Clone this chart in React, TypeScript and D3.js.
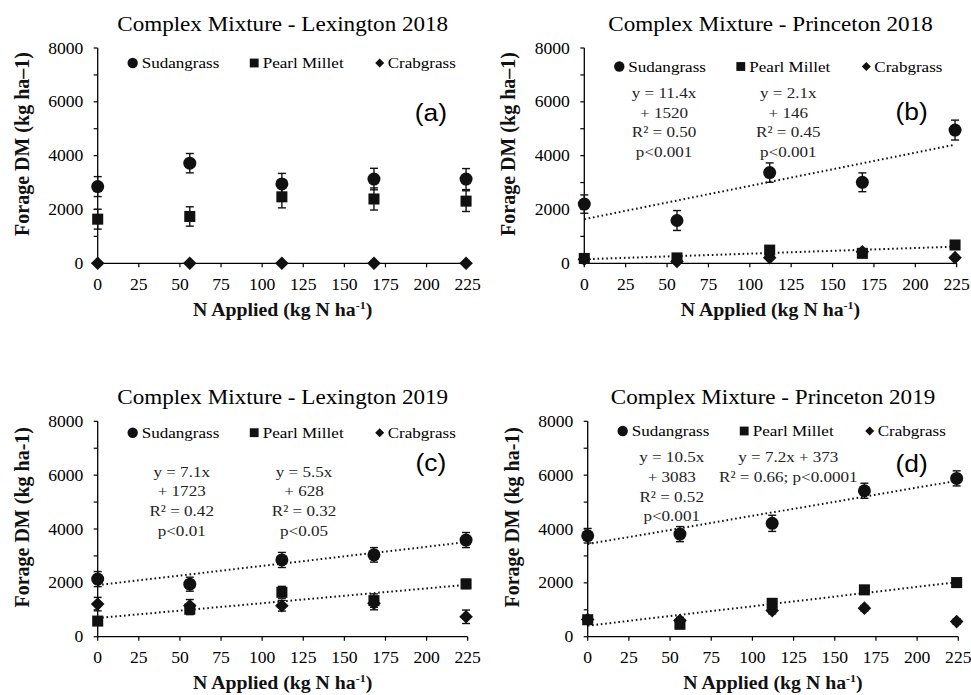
import React from "react";
import * as d3 from "d3";

// ---------- data ----------
const nRates = [0, 56, 112, 168, 224];
const xTicks = [0, 25, 50, 75, 100, 125, 150, 175, 200, 225];
const yTicksMajor = [0, 2000, 4000, 6000, 8000];
const yTicksMinor = [1000, 3000, 5000, 7000];
const seriesNames = ["Sudangrass", "Pearl Millet", "Crabgrass"];

const lex18Sudan = [2850, 3720, 2950, 3130, 3130];
const lex18SudanErr = [370, 360, 390, 400, 390];
const lex18Millet = [1640, 1740, 2470, 2390, 2310];
const lex18MilletErr = [370, 360, 410, 410, 385];
const lex18Crab = [0, 0, 0, 0, 0];
const lex18CrabErr = [0, 0, 0, 0, 0];

const pri18Sudan = [2200, 1590, 3370, 3010, 4950];
const pri18SudanErr = [340, 370, 360, 350, 370];
const pri18Millet = [180, 200, 490, 370, 680];
const pri18MilletErr = [80, 80, 100, 90, 60];
const pri18Crab = [150, 70, 210, 430, 210];
const pri18CrabErr = [60, 50, 60, 60, 60];

const lex19Sudan = [2140, 1950, 2850, 3040, 3590];
const lex19SudanErr = [280, 260, 280, 270, 280];
const lex19Millet = [580, 1020, 1650, 1340, 1960];
const lex19MilletErr = [150, 200, 220, 250, 170];
const lex19Crab = [1210, 1150, 1150, 1240, 740];
const lex19CrabErr = [250, 230, 200, 240, 250];

const pri19Sudan = [3750, 3810, 4210, 5420, 5880];
const pri19SudanErr = [270, 280, 300, 280, 280];
const pri19Millet = [630, 460, 1240, 1740, 2010];
const pri19MilletErr = [120, 120, 150, 100, 100];
const pri19Crab = [640, 600, 970, 1060, 560];
const pri19CrabErr = [120, 120, 120, 100, 100];

const titles = [
  "Complex Mixture - Lexington 2018",
  "Complex Mixture - Princeton 2018",
  "Complex Mixture - Lexington 2019",
  "Complex Mixture - Princeton 2019",
];
const tags = ["(a)", "(b)", "(c)", "(d)"];
const yLabels = [
  "Forage DM (kg ha\u20131)",
  "Forage DM (kg ha\u20131)",
  "Forage DM (kg ha-1)",
  "Forage DM (kg ha-1)",
];
const eqA1: string[] = [];
const eqA2: string[] = [];
const eqB1 = ["y = 11.4x", "+ 1520", "R\u00B2 = 0.50", "p<0.001"];
const eqB2 = ["y = 2.1x", "+ 146", "R\u00B2 = 0.45", "p<0.001"];
const eqC1 = ["y = 7.1x", "+ 1723", "R\u00B2 = 0.42", "p<0.01"];
const eqC2 = ["y = 5.5x", "+ 628", "R\u00B2 = 0.32", "p<0.05"];
const eqD1 = ["y = 10.5x", "+ 3083", "R\u00B2 = 0.52", "p<0.001"];
const eqD2 = ["y = 7.2x + 373", "R\u00B2 = 0.66; p<0.0001"];

// ---------- layout ----------
const SERIF = "'Liberation Serif', 'Times New Roman', serif";
const SANS = "'Liberation Sans', Arial, sans-serif";
const SX = 1.1;

const layouts = [
  { left: 97.7, right: 467.7, top: 48, bottom: 263.3, legendDy: 15, tagX: 430.8, tagY: 121, eqX1: 0, eqX2: 0, eqY: 0, trends: false },
  { left: 584.3, right: 956.7, top: 48, bottom: 263.3, legendDy: 18.5, tagX: 911.7, tagY: 120, eqX1: 664, eqX2: 788.3, eqY: 98, trends: true },
  { left: 97.7, right: 467.7, top: 421.3, bottom: 636.7, legendDy: 11.4, tagX: 430.8, tagY: 471, eqX1: 181.7, eqX2: 304, eqY: 476.7, trends: true },
  { left: 587.7, right: 958.3, top: 421.3, bottom: 636.7, legendDy: 9.7, tagX: 911.7, tagY: 472, eqX1: 671.7, eqX2: 788.3, eqY: 462.3, trends: true },
];

const panelData = [
  { s: [lex18Sudan, lex18Millet, lex18Crab], e: [lex18SudanErr, lex18MilletErr, lex18CrabErr], eq1: eqA1, eq2: eqA2 },
  { s: [pri18Sudan, pri18Millet, pri18Crab], e: [pri18SudanErr, pri18MilletErr, pri18CrabErr], eq1: eqB1, eq2: eqB2 },
  { s: [lex19Sudan, lex19Millet, lex19Crab], e: [lex19SudanErr, lex19MilletErr, lex19CrabErr], eq1: eqC1, eq2: eqC2 },
  { s: [pri19Sudan, pri19Millet, pri19Crab], e: [pri19SudanErr, pri19MilletErr, pri19CrabErr], eq1: eqD1, eq2: eqD2 },
];

function T(props: any) {
  const { x, y, size, anchor = "middle", weight = "normal", family = SERIF, fill = "#000", sx = SX, children } = props;
  return (
    <text
      transform={`translate(${x},${y}) scale(${sx},1)`}
      fontSize={size}
      textAnchor={anchor}
      fontFamily={family}
      fontWeight={weight}
      fill={fill}
    >
      {children}
    </text>
  );
}

function Marker({ kind, cx, cy, size }: { kind: number; cx: number; cy: number; size: number }) {
  if (kind === 0) return <circle cx={cx} cy={cy} r={size} fill="#111" />;
  if (kind === 1) {
    const h = size * 0.85;
    return <rect x={cx - h} y={cy - h} width={2 * h} height={2 * h} fill="#111" />;
  }
  const d = size;
  return <path d={`M${cx},${cy - d}L${cx + d},${cy}L${cx},${cy + d}L${cx - d},${cy}Z`} fill="#111" />;
}

function regression(xs: number[], ys: number[]) {
  const mx = d3.mean(xs) as number;
  const my = d3.mean(ys) as number;
  let num = 0;
  let den = 0;
  xs.forEach((x, i) => {
    num += (x - mx) * (ys[i] - my);
    den += (x - mx) * (x - mx);
  });
  const slope = num / den;
  return { slope, intercept: my - slope * mx };
}

function Panel({ idx }: { idx: number }) {
  const L = layouts[idx];
  const D = panelData[idx];
  const x = d3.scaleLinear().domain([0, 225]).range([L.left, L.right]);
  const y = d3.scaleLinear().domain([0, 8000]).range([L.bottom, L.top]);
  const legendY = L.top + L.legendDy;
  const legendOffsets = [
    { m: 35, t: 44 },
    { m: 156.5, t: 165 },
    { m: 282, t: 290 },
  ];
  const line = d3
    .line<number>()
    .x((d) => x(d))
    .y((d) => d);

  const trendSeries = L.trends ? [0, 1] : [];
  const midX = (L.left + L.right) / 2;

  return (
    <g>
      {/* title */}
      <T x={midX} y={L.top - 17.3} size={21}>
        {titles[idx]}
      </T>
      {/* axes */}
      <line x1={L.left} x2={L.left} y1={L.top} y2={L.bottom} stroke="#000" strokeWidth={1.3} />
      <line x1={L.left} x2={L.right} y1={L.bottom} y2={L.bottom} stroke="#000" strokeWidth={1.3} />
      {yTicksMajor.concat(yTicksMinor).map((t) => (
        <line key={"yt" + t} x1={L.left - 4} x2={L.left} y1={y(t)} y2={y(t)} stroke="#000" strokeWidth={1.2} />
      ))}
      {xTicks.map((t) => (
        <line key={"xt" + t} x1={x(t)} x2={x(t)} y1={L.bottom} y2={L.bottom + 4} stroke="#000" strokeWidth={1.2} />
      ))}
      {yTicksMajor.map((t) => (
        <T key={"yl" + t} x={L.left - 14.4} y={y(t) + 5.5} size={16} anchor="end">
          {String(t)}
        </T>
      ))}
      {xTicks.map((t) => (
        <T key={"xl" + t} x={x(t)} y={L.bottom + 26.7} size={16}>
          {String(t)}
        </T>
      ))}
      {/* axis titles */}
      <text
        transform={`translate(${L.left - 69},${L.top + 96}) rotate(-90)`}
        fontSize={20}
        fontWeight="bold"
        fontFamily={SERIF}
        textAnchor="middle"
        fill="#111"
      >
        {yLabels[idx]}
      </text>
      <T x={midX} y={L.bottom + 52.5} size={18} weight="bold" fill="#111">
        N Applied (kg N ha
        <tspan fontSize={11} dy={-7}>
          -1
        </tspan>
        <tspan dy={7}>)</tspan>
      </T>
      {/* legend */}
      {seriesNames.map((nm, i) => (
        <g key={"lg" + i}>
          <Marker kind={i} cx={L.left + legendOffsets[i].m} cy={legendY} size={i === 2 ? 4.5 : 5.2} />
          <T x={L.left + legendOffsets[i].t} y={legendY + 5.3} size={15.5} anchor="start">
            {nm}
          </T>
        </g>
      ))}
      {/* panel tag */}
      <T x={L.tagX} y={L.tagY} size={24} family={SANS}>
        {tags[idx]}
      </T>
      {/* equations */}
      {D.eq1.map((s, i) => (
        <T key={"e1" + i} x={L.eqX1} y={L.eqY + i * 19.7} size={15.5} fill="#222">
          {s}
        </T>
      ))}
      {D.eq2.map((s, i) => (
        <T key={"e2" + i} x={L.eqX2} y={L.eqY + i * 19.7} size={15.5} fill="#222">
          {s}
        </T>
      ))}
      {/* trendlines */}
      {trendSeries.map((si) => {
        const r = regression(nRates, D.s[si]);
        const xs = [0, 224];
        const pts = xs.map((v) => y(r.intercept + r.slope * v));
        const path = `M${x(xs[0])},${pts[0]}L${x(xs[1])},${pts[1]}`;
        return (
          <path
            key={"tr" + si}
            d={path}
            stroke="#111"
            strokeWidth={2}
            strokeDasharray="1.6,2.8"
            fill="none"
          />
        );
      })}
      {/* error bars + markers */}
      {D.s.map((vals, si) => (
        <g key={"s" + si}>
          {vals.map((v, i) => {
            const e = D.e[si][i];
            const cx = x(nRates[i]);
            if (e <= 0) return null;
            return (
              <g key={"eb" + i} stroke="#111" strokeWidth={1.4}>
                <line x1={cx} x2={cx} y1={y(v - e)} y2={y(v + e)} />
                <line x1={cx - 4} x2={cx + 4} y1={y(v - e)} y2={y(v - e)} />
                <line x1={cx - 4} x2={cx + 4} y1={y(v + e)} y2={y(v + e)} />
              </g>
            );
          })}
          {vals.map((v, i) => (
            <Marker key={"m" + i} kind={si} cx={x(nRates[i])} cy={y(v)} size={si === 0 ? 6.5 : si === 1 ? 6.5 : 6.8} />
          ))}
        </g>
      ))}
    </g>
  );
}

export default function App() {
  return (
    <svg
      width={971}
      height={695}
      viewBox="0 0 971 695"
      style={{ position: "absolute", left: 0, top: 0, background: "#fff" }}
    >
      <rect x={0} y={0} width={971} height={695} fill="#fff" />
      {[0, 1, 2, 3].map((i) => (
        <Panel key={i} idx={i} />
      ))}
    </svg>
  );
}
